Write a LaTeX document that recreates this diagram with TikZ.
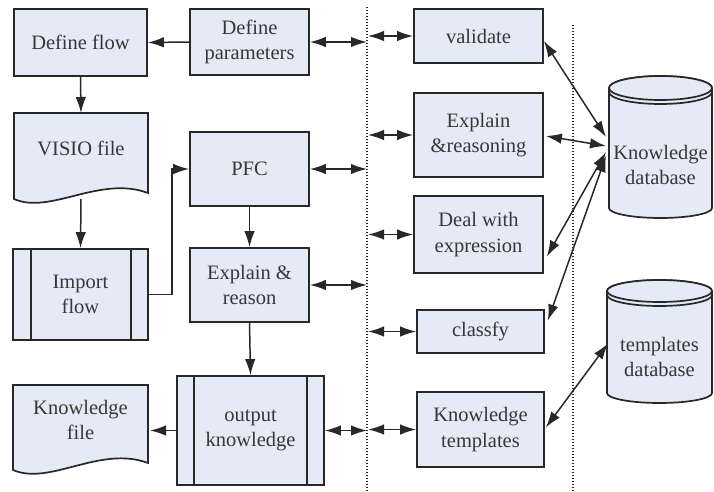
\documentclass[tikz,border=0pt]{standalone}
\usepackage{fontspec}
\setmainfont{Liberation Serif}
\usetikzlibrary{arrows.meta}
\definecolor{boxfill}{RGB}{228,234,246}
\definecolor{ink}{RGB}{40,40,40}
\definecolor{txtc}{RGB}{55,55,55}
\begin{document}
\begin{tikzpicture}[x=1pt,y=1pt,
  tfont/.style={font=\fontsize{20.5}{25.5}\selectfont, text=txtc, align=center},
  box/.style={tfont, draw=ink, line width=1.7pt, fill=boxfill, inner sep=0pt},
  holder/.style={inner sep=0pt, outer sep=0pt},
  txt/.style={tfont, inner sep=0pt},
  outline/.style={draw=ink, line width=1.7pt, fill=boxfill},
  thinline/.style={draw=ink, line width=1.7pt},
  conn/.style={draw=ink, line width=1.5pt, -{Latex[length=16pt,width=10.5pt]}},
  dconn/.style={draw=ink, line width=1.5pt, {Latex[length=16pt,width=10.5pt]}-{Latex[length=16pt,width=10.5pt]}},
  dotline/.style={draw=ink, line width=1.5pt, dash pattern=on 1.4pt off 1.6pt}]
\useasboundingbox (0,0) rectangle (714,491);

% dotted separators
\coordinate (dlA) at (367,0);
\coordinate (dlB) at (573,0);
\draw[dotline] (367,484) -- (dlA);
\draw[dotline] (573,466) -- (dlB);

% left column
\node[box, minimum width=133pt, minimum height=67pt] (defflow) at (80.5,448.5) {Define flow};
\node[box, minimum width=119pt, minimum height=66pt] (defparam) at (249.5,449) {Define\\parameters};
\node[box, minimum width=119pt, minimum height=74pt] (pfc) at (249.5,322) {PFC};
\node[box, minimum width=135pt, minimum height=91pt] (import) at (80.5,196.5) {Import\\flow};
\draw[thinline] ([xshift=19pt]import.north west) -- ([xshift=19pt]import.south west);
\draw[thinline] ([xshift=-18pt]import.north east) -- ([xshift=-18pt]import.south east);
\node[box, minimum width=119pt, minimum height=74pt] (explain) at (249.5,206) {Explain \&\\reason};
\node[box, minimum width=147pt, minimum height=109pt] (output) at (250.5,60.5) {output\\knowledge};
\draw[thinline] ([xshift=18pt]output.north west) -- ([xshift=18pt]output.south west);
\draw[thinline] ([xshift=-18pt]output.north east) -- ([xshift=-18pt]output.south east);

% VISIO file (document shape)
\node[holder, minimum width=134pt, minimum height=86pt] (visio) at (81,335) {};
\draw[outline] (visio.north west) -- (visio.north east) -- (148,298)
  .. controls (100,316) and (50,276) .. (14,292) -- cycle;
\node[txt] (visiotxt) at (81,343) {VISIO file};

% Knowledge file (document shape)
\node[holder, minimum width=135pt, minimum height=82pt] (kfile) at (80.5,65) {};
\draw[outline] (kfile.north west) -- (kfile.north east) -- (148,28)
  .. controls (100,46) and (50,5) .. (13,21) -- cycle;
\node[txt] (kfiletxt) at (80.5,71) {Knowledge\\file};

% right column
\node[box, minimum width=129pt, minimum height=54pt] (validate) at (478.5,455) {validate};
\node[box, minimum width=129pt, minimum height=84pt] (explainr) at (478.5,356) {Explain\\\&reasoning};
\node[box, minimum width=129pt, minimum height=77pt] (deal) at (478.5,256.5) {Deal with\\expression};
\node[box, minimum width=127pt, minimum height=43pt] (classfy) at (480.5,159.5) {classfy};
\node[box, minimum width=127pt, minimum height=75pt] (ktempl) at (480.5,61.5) {Knowledge\\templates};

% Knowledge database cylinder
\node[holder, minimum width=103pt, minimum height=142pt] (kdb) at (660.5,344) {};
\draw[outline] (609,403) -- (609,283) arc[start angle=180,end angle=360,x radius=51.5pt,y radius=10pt]
  -- (712,403) arc[start angle=0,end angle=180,x radius=51.5pt,y radius=12pt] -- cycle;
\draw[outline] (660.5,403) ellipse[x radius=51.5pt, y radius=12pt];
\draw[thinline] (609,399) arc[start angle=180,end angle=360,x radius=51.5pt,y radius=12pt];
\node[txt] (kdbtxt) at (660.5,326) {Knowledge\\database};

% templates database cylinder
\node[holder, minimum width=105pt, minimum height=123pt] (tdb) at (659.5,149.5) {};
\draw[outline] (607,200) -- (607,98) arc[start angle=180,end angle=360,x radius=52.5pt,y radius=10pt]
  -- (712,200) arc[start angle=0,end angle=180,x radius=52.5pt,y radius=11pt] -- cycle;
\draw[outline] (659.5,200) ellipse[x radius=52.5pt, y radius=11pt];
\draw[thinline] (607,196) arc[start angle=180,end angle=360,x radius=52.5pt,y radius=11pt];
\node[txt] (tdbtxt) at (659.5,134) {templates\\database};

% flow connectors
\draw[conn] (defparam.west) -- (defflow.east);
\draw[conn] (defflow.south) -- (visio.north);
\draw[conn] (visio.south) -- (import.north);
\draw[conn] (import.east) -- ++(23,0) |- (pfc.west);
\draw[conn] (pfc.south) -- (explain.north);
\draw[conn] (explain.south) -- (output.north);
\draw[conn] (output.west) -- ([xshift=2pt]kfile.east |- output.west);

% double arrows to the dotted line (left)
\draw[dconn] (defparam.east) -- (defparam.east -| dlA);
\draw[dconn] (pfc.east) -- (pfc.east -| dlA);
\draw[dconn] (explain.east) -- (explain.east -| dlA);
\draw[dconn] (output.east) -- (output.east -| dlA);

% double arrows from the dotted line (right)
\draw[dconn] ([xshift=1pt]validate.west -| dlA) -- (validate.west);
\draw[dconn] ([xshift=1pt]explainr.west -| dlA) -- (explainr.west);
\draw[dconn] ([xshift=1pt]deal.west -| dlA) -- (deal.west);
\draw[dconn] ([xshift=1pt]classfy.west -| dlA) -- (classfy.west);
\draw[dconn] ([xshift=1pt]ktempl.west -| dlA) -- (ktempl.west);

% database connectors
\draw[dconn] ([yshift=-5pt]validate.east) -- ([xshift=-3pt,yshift=10pt]kdb.west);
\draw[dconn] ([xshift=2pt,yshift=-1pt]explainr.east) -- ([xshift=-3pt,yshift=1pt]kdb.west);
\draw[dconn] ([xshift=3pt,yshift=-22pt]deal.east) -- ([xshift=-3pt,yshift=-5pt]kdb.west);
\draw[dconn] ([xshift=3pt,yshift=11pt]classfy.east) -- ([xshift=-3pt,yshift=-9pt]kdb.west);
\draw[dconn] ([xshift=1pt,yshift=2pt]ktempl.east) -- ([xshift=1pt,yshift=-2pt]tdb.west);
\end{tikzpicture}
\end{document}
